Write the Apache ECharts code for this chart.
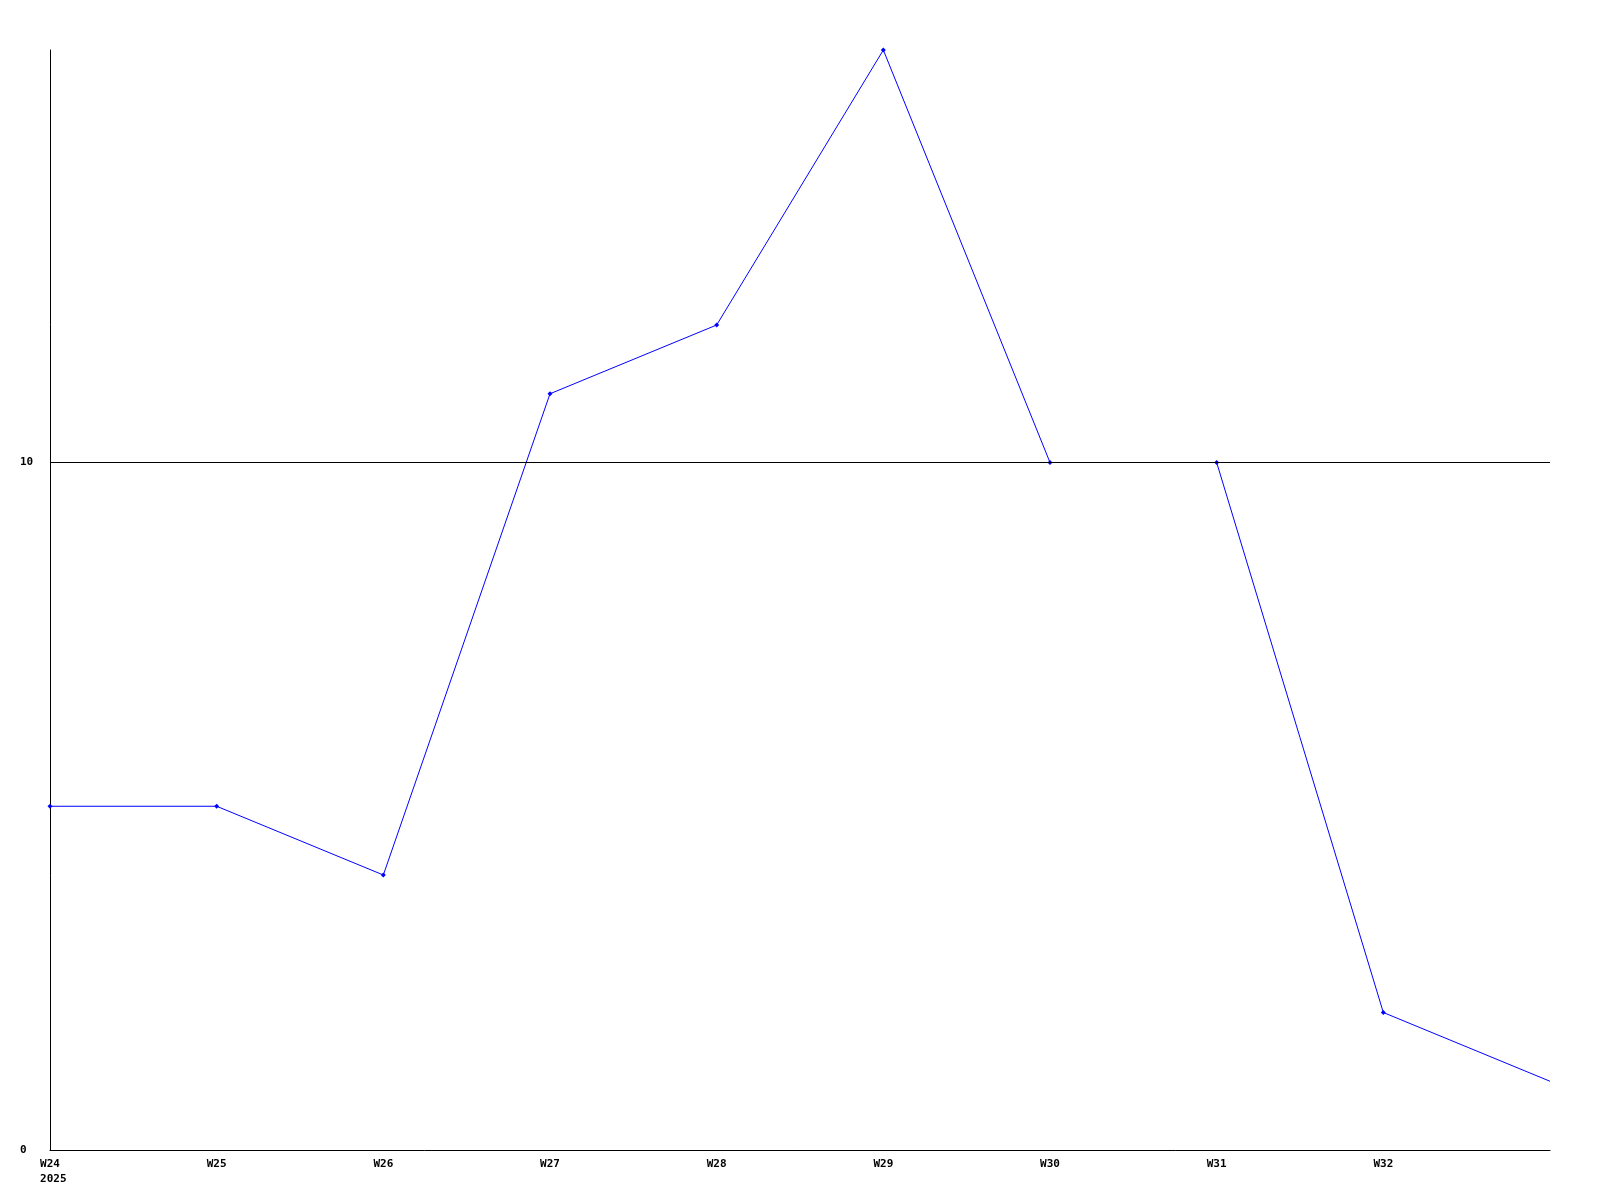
<!DOCTYPE html>
<html>
<head>
<meta charset="utf-8">
<style>
html,body{margin:0;padding:0;background:#fff;}
#chart{width:1600px;height:1200px;}
</style>
<script src="https://cdn.jsdelivr.net/npm/echarts@6/dist/echarts.min.js"></script>
</head>
<body>
<div id="chart"></div>
<script>
const categories = ['W24','W25','W26','W27','W28','W29','W30','W31','W32','W33'];
const yearLabel = '2025';
const values = [5, 5, 4, 11, 12, 16, 10, 10, 2, 1];
const yTickLabels = [0, 10];
const yMax = 16;

const seriesData = values.map(function(v, i){
  return i === values.length - 1 ? {value:v, symbol:'none'} : v;
});

const chart = echarts.init(document.getElementById('chart'), null, {renderer:'canvas'});
const font = {fontFamily:'DejaVu Sans Mono', fontWeight:'bold', fontSize:11, color:'#000'};
chart.setOption({
  animation:false,
  backgroundColor:'#fff',
  grid:{left:50,right:50,top:50,bottom:50,containLabel:false},
  xAxis:{
    type:'category',
    data:categories,
    boundaryGap:false,
    axisLine:{lineStyle:{color:'#000',width:1}},
    axisTick:{show:false},
    splitLine:{show:false},
    axisLabel:Object.assign({
      margin:7,
      lineHeight:15,
      interval:function(i){ return i < categories.length-1; },
      formatter:function(v,i){ return i===0 ? v + '\n ' + yearLabel : v; }
    }, font)
  },
  yAxis:{
    type:'value',
    min:0,
    max:yMax,
    interval:10,
    axisLine:{show:true,lineStyle:{color:'#000',width:1}},
    axisTick:{show:false},
    splitLine:{show:false},
    axisLabel:Object.assign({
      margin:30,
      align:'left',
      formatter:function(v){ return yTickLabels.indexOf(v) >= 0 ? String(v) : ''; }
    }, font)
  },
  series:[{
    type:'line',
    data:seriesData,
    symbol:'diamond',
    symbolSize:5,
    showSymbol:true,
    lineStyle:{color:'#0000ff',width:1},
    itemStyle:{color:'#0000ff'},
    markLine:{
      silent:true,
      symbol:'none',
      label:{show:false},
      lineStyle:{color:'#000',width:1,type:'solid'},
      data:[{yAxis:yTickLabels[1]}]
    }
  }]
});
</script>
</body>
</html>
